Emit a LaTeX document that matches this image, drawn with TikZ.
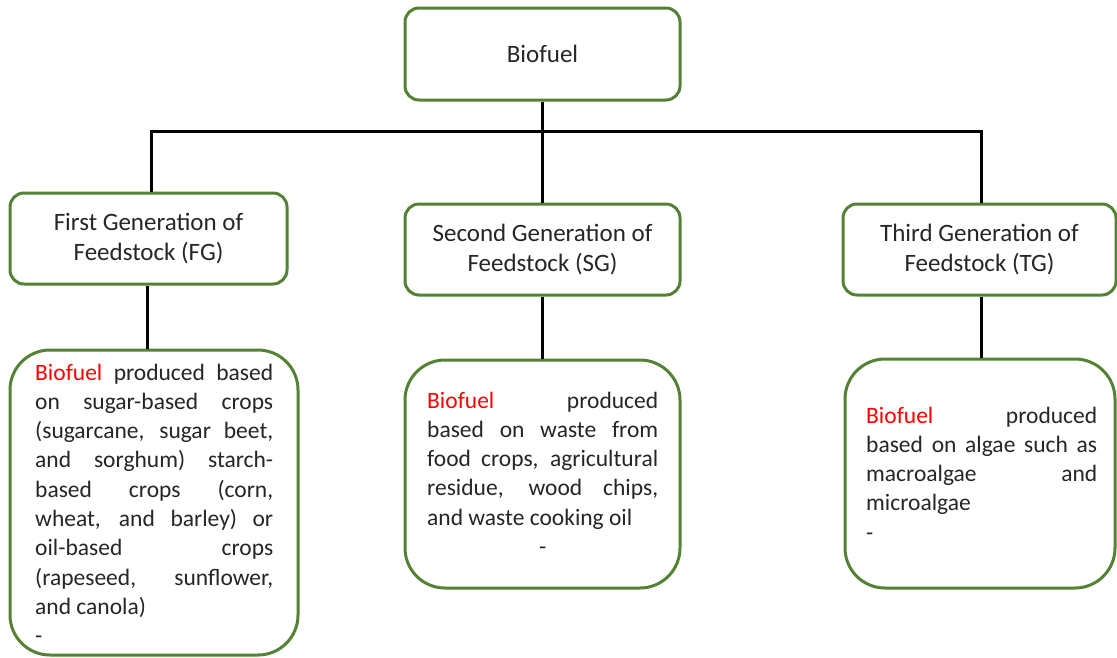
\documentclass[tikz,border=0pt]{standalone}
\usepackage{fontspec}
\setmainfont{Carlito}
\definecolor{boxgreen}{HTML}{548235}
\definecolor{txtred}{HTML}{FF0000}
\begin{document}
\begin{tikzpicture}[x=1pt,y=-1pt,
  hdrbox/.style={draw=boxgreen, line width=3pt, rounded corners=14pt, fill=white, inner sep=0pt},
  descbox/.style={draw=boxgreen, line width=3pt, rounded corners=40pt, fill=white, inner sep=0pt},
  hdrtext/.style={align=center, font=\fontsize{25}{30}\selectfont, text=black!85, inner sep=0pt},
  desctext/.style={anchor=base west, inner sep=0pt, align=justify, font=\fontsize{23.5}{29.3}\selectfont, text=black!85,
     execute at begin node={\hyphenpenalty=10000\exhyphenpenalty=10000\tolerance=10000\emergencystretch=20pt}},
  conn/.style={draw=black, line width=3pt}]
\useasboundingbox (0,0) rectangle (1117,657);
% boxes
\node[hdrbox, minimum width=275pt, minimum height=92pt] (bio) at (542.5,54) {};
\node[hdrbox, minimum width=277pt, minimum height=91pt] (fg) at (148.5,238.5) {};
\node[hdrbox, minimum width=275pt, minimum height=91pt] (sg) at (542.5,249.5) {};
\node[hdrbox, minimum width=273pt, minimum height=91pt] (tg) at (979.5,249.5) {};
\node[descbox, minimum width=288pt, minimum height=305pt] (fgd) at (154,502.5) {};
\node[descbox, minimum width=275pt, minimum height=228pt] (sgd) at (542.5,474) {};
\node[descbox, minimum width=270pt, minimum height=229pt] (tgd) at (980,473.5) {};
% header texts
\node[hdrtext] (biot) at (bio.center) {Biofuel};
\node[hdrtext] (fgt) at (fg.center) {First Generation of\\Feedstock (FG)};
\node[hdrtext] (sgt) at (sg.center) {Second Generation of\\Feedstock (SG)};
\node[hdrtext] (tgt) at (tg.center) {Third Generation of\\Feedstock (TG)};
% description texts
\node[desctext, text width=238pt] (fgdt) at (35,380) {{\color{txtred}Biofuel} produced based\linebreak
on sugar-based crops\linebreak
(sugarcane, sugar beet,\linebreak
and sorghum) starch-\linebreak
based crops (corn,\linebreak
wheat, and barley) or\linebreak
oil-based crops\linebreak
(rapeseed, sunflower,\linebreak
and canola)\par
-\par};
\node[desctext, text width=231pt] (sgdt) at (427,408) {{\color{txtred}Biofuel} produced\linebreak
based on waste from\linebreak
food crops, agricultural\linebreak
residue, wood chips,\linebreak
and waste cooking oil\par
{\centering -\par}};
\node[desctext, text width=231pt] (tgdt) at (866,423) {{\color{txtred}Biofuel} produced\linebreak
based on algae such as\linebreak
macroalgae and\linebreak
microalgae\par
-\par};
% connectors
\coordinate (barL) at (151,131);
\coordinate (barR) at (981,131);
\draw[conn] (bio.south) -- (bio.south |- barL);
\draw[conn] (barL |- fg.north) -- (barL) -- (barR) -- (barR |- tg.north);
\draw[conn] (bio.south |- barL) -- (sg.north);
\draw[conn] ([xshift=-1.5pt]fg.south) -- ([xshift=-1.5pt]fg.south |- fgd.north);
\draw[conn] (sg.south) -- (sgd.north);
\draw[conn] (barR |- tg.south) -- (barR |- tgd.north);
\end{tikzpicture}
\end{document}
